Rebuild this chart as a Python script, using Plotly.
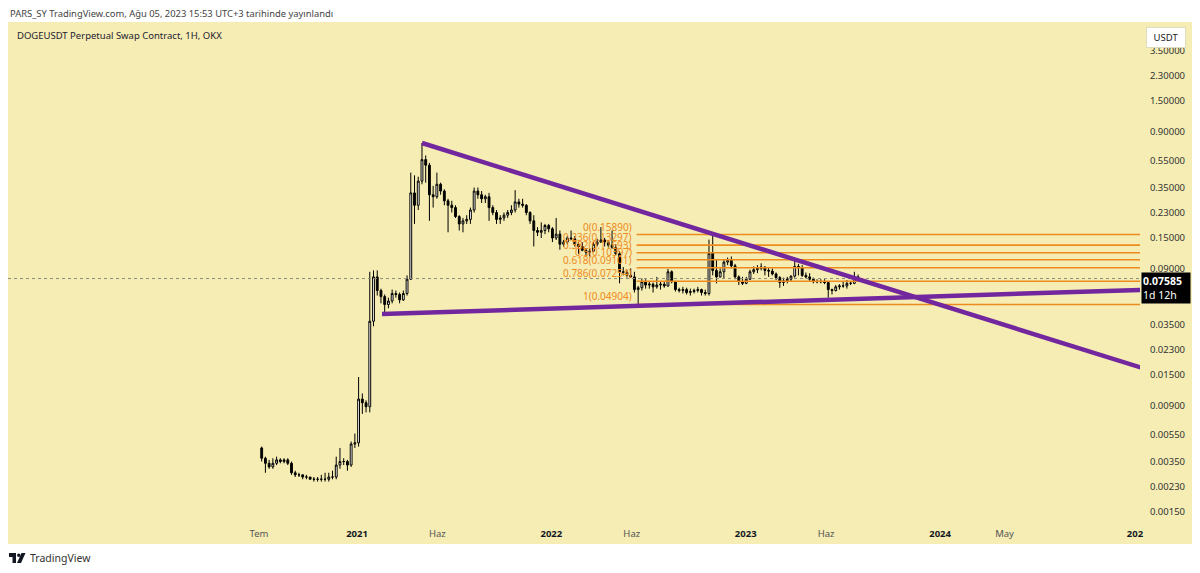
import math
import pandas as pd
import plotly.graph_objects as go

# ---------------- data (weekly candles, DOGEUSDT) ----------------
first_week = "2020-07-06"
first_open = 0.0044
closes = [
    0.0037, 0.0034, 0.0032, 0.0034, 0.0036, 0.0035, 0.0036, 0.0034, 0.0029, 0.0028,
    0.0028, 0.0027, 0.0027, 0.0026, 0.0026, 0.0026, 0.0026, 0.0026, 0.0027, 0.0027,
    0.0033, 0.0035, 0.0035, 0.0033, 0.0047, 0.0048, 0.0100, 0.0094, 0.0088, 0.037,
    0.078, 0.062, 0.056, 0.049, 0.052, 0.059, 0.058, 0.053, 0.059, 0.075,
    0.32, 0.26, 0.39, 0.56, 0.51, 0.31, 0.30, 0.37, 0.33, 0.28,
    0.26, 0.25, 0.215, 0.19, 0.20, 0.205, 0.24, 0.33, 0.31, 0.29,
    0.30, 0.25, 0.23, 0.205, 0.21, 0.22, 0.23, 0.24, 0.275, 0.265,
    0.26, 0.23, 0.20, 0.17, 0.165, 0.17, 0.185, 0.175, 0.15, 0.16,
    0.135, 0.14, 0.15, 0.148, 0.135, 0.13, 0.122, 0.118, 0.12, 0.135,
    0.14, 0.145, 0.14, 0.133, 0.128, 0.115, 0.085, 0.084, 0.08, 0.078,
    0.063, 0.065, 0.072, 0.068, 0.069, 0.066, 0.068, 0.069, 0.067, 0.085,
    0.072, 0.063, 0.062, 0.063, 0.06, 0.061, 0.062, 0.063, 0.06, 0.059,
    0.116, 0.087, 0.078, 0.085, 0.10, 0.103, 0.094, 0.078, 0.072, 0.07,
    0.075, 0.085, 0.088, 0.09, 0.092, 0.087, 0.086, 0.082, 0.077, 0.071,
    0.073, 0.075, 0.079, 0.093, 0.091, 0.08, 0.078, 0.075, 0.072, 0.072,
    0.072, 0.071, 0.063, 0.062, 0.066, 0.067, 0.067, 0.07, 0.07, 0.078,
    0.07585,
]
highs = [
    0.0045, 0.0038, 0.0036, 0.0037, 0.0038, 0.0037, 0.0037, 0.0037, 0.0035, 0.0030,
    0.0029, 0.0028, 0.0028, 0.0027, 0.0027, 0.0027, 0.0028, 0.0029, 0.0029, 0.0030,
    0.0038, 0.0044, 0.0037, 0.0036, 0.0049, 0.0056, 0.0145, 0.0110, 0.0098, 0.085,
    0.087, 0.087, 0.064, 0.058, 0.055, 0.063, 0.062, 0.060, 0.062, 0.080,
    0.45, 0.43, 0.42, 0.74, 0.60, 0.53, 0.36, 0.45, 0.38, 0.34,
    0.29, 0.28, 0.26, 0.22, 0.21, 0.22, 0.25, 0.35, 0.35, 0.33,
    0.31, 0.32, 0.26, 0.24, 0.22, 0.23, 0.24, 0.26, 0.335, 0.29,
    0.29, 0.265, 0.235, 0.22, 0.18, 0.195, 0.19, 0.19, 0.18, 0.21,
    0.17, 0.145, 0.155, 0.17, 0.155, 0.14, 0.14, 0.125, 0.125, 0.14,
    0.148, 0.18, 0.15, 0.145, 0.17, 0.135, 0.12, 0.092, 0.088, 0.09,
    0.085, 0.067, 0.076, 0.075, 0.072, 0.071, 0.078, 0.072, 0.072, 0.089,
    0.087, 0.073, 0.065, 0.066, 0.065, 0.064, 0.064, 0.066, 0.064, 0.063,
    0.146, 0.159, 0.104, 0.09, 0.105, 0.108, 0.11, 0.097, 0.08, 0.078,
    0.078, 0.088, 0.093, 0.095, 0.098, 0.093, 0.092, 0.09, 0.084, 0.079,
    0.077, 0.078, 0.08, 0.107, 0.097, 0.095, 0.084, 0.083, 0.077, 0.075,
    0.075, 0.075, 0.072, 0.064, 0.068, 0.069, 0.072, 0.074, 0.072, 0.085,
    0.081,
]
lows = [
    0.0035, 0.0029, 0.0031, 0.0031, 0.0033, 0.0034, 0.0034, 0.0033, 0.0028, 0.0027,
    0.0027, 0.0026, 0.0026, 0.0026, 0.0025, 0.0025, 0.0025, 0.0025, 0.0025, 0.0026,
    0.0026, 0.0031, 0.0033, 0.0030, 0.0032, 0.0044, 0.0045, 0.0078, 0.0080, 0.0080,
    0.034, 0.057, 0.050, 0.042, 0.046, 0.050, 0.055, 0.050, 0.052, 0.057,
    0.074, 0.19, 0.24, 0.37, 0.38, 0.20, 0.25, 0.29, 0.31, 0.26,
    0.165, 0.23, 0.21, 0.17, 0.165, 0.19, 0.19, 0.23, 0.29, 0.27,
    0.27, 0.20, 0.22, 0.19, 0.19, 0.20, 0.21, 0.22, 0.23, 0.25,
    0.25, 0.22, 0.19, 0.13, 0.155, 0.15, 0.16, 0.165, 0.14, 0.145,
    0.123, 0.13, 0.135, 0.145, 0.13, 0.115, 0.12, 0.11, 0.11, 0.118,
    0.13, 0.138, 0.13, 0.128, 0.125, 0.113, 0.07, 0.08, 0.077, 0.077,
    0.06, 0.049, 0.062, 0.064, 0.064, 0.06, 0.064, 0.063, 0.065, 0.066,
    0.07, 0.061, 0.06, 0.059, 0.058, 0.057, 0.059, 0.06, 0.057, 0.057,
    0.057, 0.08, 0.07, 0.077, 0.076, 0.095, 0.09, 0.075, 0.068, 0.068,
    0.069, 0.074, 0.082, 0.083, 0.087, 0.08, 0.078, 0.08, 0.074, 0.065,
    0.067, 0.07, 0.072, 0.077, 0.08, 0.078, 0.076, 0.073, 0.07, 0.07,
    0.07, 0.069, 0.055, 0.058, 0.061, 0.063, 0.065, 0.064, 0.068, 0.069,
    0.072,
]
opens = [first_open] + closes[:-1]
dates = pd.date_range(first_week, periods=len(closes), freq="7D")

# trend lines (date, price)
upper_line_dates = ["2021-05-03", "2025-01-12"]
upper_line_prices = [0.74, 0.0170]
lower_line_dates = ["2021-02-17", "2025-01-12"]
lower_line_prices = [0.0418, 0.0627]

# fibonacci retracement
fib_start = "2022-06-10"
fib_ratios = ["0", "0.236", "0.382", "0.5", "0.618", "0.786", "1"]
fib_prices = [0.15890, 0.13297, 0.11693, 0.10397, 0.09101, 0.07254, 0.04904]

last_price = 0.07585
last_price_text = "0.07585"
countdown_text = "1d 12h"

y_tick_vals = [3.5, 2.3, 1.5, 0.9, 0.55, 0.35, 0.23, 0.15, 0.09, 0.055, 0.035,
               0.023, 0.015, 0.009, 0.0055, 0.0035, 0.0023, 0.0015]
y_tick_text = [f"{v:.5f}" for v in y_tick_vals]

x_tick_vals = ["2020-07-01", "2021-01-01", "2021-06-01", "2022-01-01", "2022-06-01",
               "2023-01-01", "2023-06-01", "2024-01-01", "2024-05-01", "2025-01-01"]
x_tick_labels = ["Tem", "2021", "Haz", "2022", "Haz", "2023", "Haz", "2024", "May", "202"]
x_tick_is_year = [False, True, False, True, False, True, False, True, False, True]

header_text = "PARS_SY TradingView.com, Ağu 05, 2023 15:53 UTC+3 tarihinde yayınlandı"
title_text = "DOGEUSDT Perpetual Swap Contract, 1H, OKX"

# ---------------- geometry / style ----------------
# the page body has an 8px margin, so the figure starts at page pixel (8, 8)
OFF = 8
W, H = 1200 - 2 * OFF, 573 - 2 * OFF
PL, PR, PT, PB = 8, 1140, 22, 522          # plot area in page pixels
PX_PER_DAY = 0.5325
PX_2021 = 357
Y_A, Y_B = 125.1, 137.0                     # page y = Y_A - Y_B*log10(price)

BG = "#F5EDB4"
PURPLE = "#72279E"
ORANGE = "#EE8B1E"
FONT = "Noto Sans"

t2021 = pd.Timestamp("2021-01-01")
x_start = t2021 + pd.Timedelta(days=(PL - PX_2021) / PX_PER_DAY)
x_end = t2021 + pd.Timedelta(days=(PR - PX_2021) / PX_PER_DAY)
y_top = (Y_A - PT) / Y_B
y_bot = (Y_A - PB) / Y_B


def px(xp):
    return (xp - PL) / (PR - PL)


def py(yp):
    return (PB - yp) / (PB - PT)


fig = go.Figure()

# current price dotted line
fig.add_trace(go.Scatter(x=[x_start, x_end], y=[last_price, last_price], mode="lines",
                         line=dict(color="#8a8a80", width=1, dash="dot"), hoverinfo="skip"))

# fib lines
for p in fib_prices:
    fig.add_trace(go.Scatter(x=[fib_start, x_end], y=[p, p], mode="lines",
                             line=dict(color=ORANGE, width=1.6), hoverinfo="skip"))

# candles
fig.add_trace(go.Candlestick(
    x=dates, open=opens, high=highs, low=lows, close=closes,
    increasing=dict(line=dict(color="#000000", width=1), fillcolor="#FFFFFF"),
    decreasing=dict(line=dict(color="#000000", width=1), fillcolor="#000000"),
    whiskerwidth=0, hoverinfo="skip"))

# trend lines
fig.add_trace(go.Scatter(x=upper_line_dates, y=upper_line_prices, mode="lines",
                         line=dict(color=PURPLE, width=4.5), hoverinfo="skip"))
fig.add_trace(go.Scatter(x=lower_line_dates, y=lower_line_prices, mode="lines",
                         line=dict(color=PURPLE, width=4.5), hoverinfo="skip"))

annotations = []
# fib labels
for r, p in zip(fib_ratios, fib_prices):
    annotations.append(dict(x=fib_start, y=math.log10(p), xref="x", yref="y",
                            text=f"{r}({p:.5f})", showarrow=False,
                            xanchor="right", yanchor="bottom", xshift=-3, yshift=-1,
                            font=dict(family=FONT, size=10, color=ORANGE)))

# header / title
annotations.append(dict(x=px(8), y=py(14), xref="paper", yref="paper", text=header_text,
                        showarrow=False, xanchor="left", yanchor="middle",
                        font=dict(family=FONT, size=9.4, color="#444444")))
annotations.append(dict(x=px(15), y=py(35), xref="paper", yref="paper", text=title_text,
                        showarrow=False, xanchor="left", yanchor="middle",
                        font=dict(family=FONT, size=9.5, color="#1e2130")))
# USDT box
annotations.append(dict(x=px(1166), y=py(37), xref="paper", yref="paper", text="USDT",
                        showarrow=False, xanchor="center", yanchor="middle",
                        bgcolor="#FFFFFF", bordercolor="#e0dcc0", borderwidth=1, borderpad=3,
                        width=32, font=dict(family=FONT, size=9.5, color="#222222")))
# last price box
annotations.append(dict(x=px(1141), y=math.log10(last_price), xref="paper", yref="y",
                        text=f"<b>{last_price_text}</b><br>{countdown_text}",
                        showarrow=False, xanchor="left", yanchor="top", yshift=7, align="left",
                        bgcolor="#000000", borderpad=1, width=46,
                        font=dict(family=FONT, size=10.5, color="#FFFFFF")))
# logo text
annotations.append(dict(x=px(28), y=py(558), xref="paper", yref="paper", text="TradingView",
                        showarrow=False, xanchor="left", yanchor="middle",
                        font=dict(family=FONT, size=10.5, color="#333333")))

shapes = [
    # yellow chart panel
    dict(type="rect", xref="paper", yref="paper", x0=px(8), x1=px(1192), y0=py(22), y1=py(544),
         fillcolor=BG, line=dict(width=0), layer="below"),
    # TradingView logo glyph
    dict(type="rect", xref="paper", yref="paper", x0=px(9), x1=px(16), y0=py(557), y1=py(553),
         fillcolor="#131722", line=dict(width=0)),
    dict(type="rect", xref="paper", yref="paper", x0=px(12.5), x1=px(16), y0=py(563), y1=py(553),
         fillcolor="#131722", line=dict(width=0)),
    dict(type="circle", xref="paper", yref="paper", x0=px(17), x1=px(20.5), y0=py(557), y1=py(553.5),
         fillcolor="#131722", line=dict(width=0)),
    dict(type="path", xref="paper", yref="paper",
         path=f"M {px(21.5)},{py(553)} L {px(25.5)},{py(553)} L {px(21)},{py(563)} L {px(17)},{py(563)} Z",
         fillcolor="#131722", line=dict(width=0)),
]

x_tick_text = [f"<b>{t}</b>" if yr else f"<span style='color:#555555'>{t}</span>"
               for t, yr in zip(x_tick_labels, x_tick_is_year)]

fig.update_layout(
    width=W, height=H,
    margin=dict(l=PL - OFF, r=(OFF + W) - PR, t=PT - OFF, b=(OFF + H) - PB, pad=0),
    paper_bgcolor="#FFFFFF", plot_bgcolor="rgba(0,0,0,0)",
    showlegend=False, hovermode=False,
    annotations=annotations, shapes=shapes,
    xaxis=dict(type="date", range=[x_start, x_end], showgrid=False, zeroline=False,
               showline=False, rangeslider=dict(visible=False),
               tickmode="array", tickvals=x_tick_vals, ticktext=x_tick_text,
               ticks="outside", ticklen=3, tickcolor="rgba(0,0,0,0)",
               tickfont=dict(family=FONT, size=9.5, color="#131722")),
    yaxis=dict(type="log", side="right", range=[y_bot, y_top], showgrid=False,
               zeroline=False, showline=False,
               tickmode="array", tickvals=y_tick_vals, ticktext=y_tick_text,
               ticks="outside", ticklen=7, tickcolor="rgba(0,0,0,0)",
               tickfont=dict(family=FONT, size=9.5, color="#333333")),
)

fig.write_html("out.html", config={"displayModeBar": False})
